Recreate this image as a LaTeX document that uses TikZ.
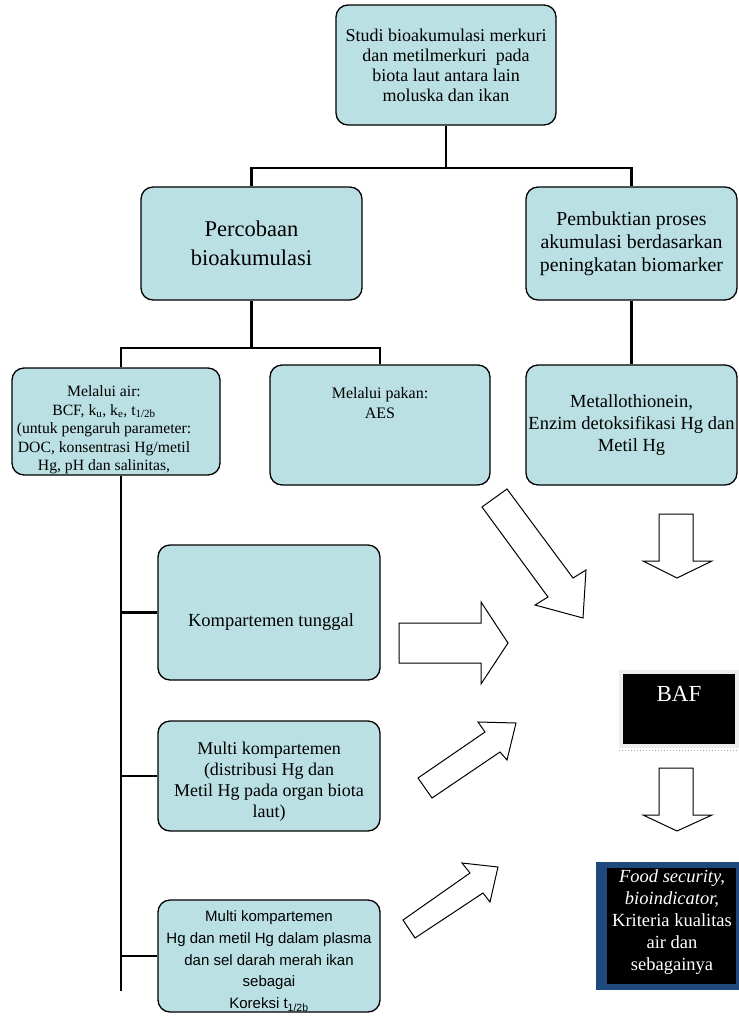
\documentclass[tikz,border=0pt]{standalone}
\usepackage{fontspec}
\setmainfont{Liberation Serif}
\newfontfamily\sansf{Liberation Sans}
\definecolor{boxblue}{RGB}{187,224,227}
\definecolor{darkblue}{RGB}{31,73,125}
\definecolor{bafgray}{RGB}{236,236,236}
\begin{document}
\begin{tikzpicture}[x=1pt,y=-1pt,
  bbox/.style={draw=black,line width=1.3pt,fill=boxblue,rounded corners=12pt,inner sep=0pt,align=center},
  conn/.style={draw=black,line width=2.2pt},
  blockarrow/.style={draw=black,fill=white,line width=1pt,line join=miter},
  txt/.style={align=center,inner sep=0pt}]
\useasboundingbox (0,0) rectangle (739,1018);

% boxes
\node[bbox,minimum width=220pt,minimum height=120pt,font=\fontsize{18}{20}\selectfont] (top) at (446,65)
  {Studi bioakumulasi merkuri\\dan metilmerkuri~ pada\\biota laut antara lain\\moluska dan ikan};
\node[bbox,minimum width=221pt,minimum height=113pt,font=\fontsize{22.5}{29}\selectfont] (perc) at (251.5,243.5)
  {Percobaan\\bioakumulasi};
\node[bbox,minimum width=211pt,minimum height=113pt,font=\fontsize{19.8}{23}\selectfont] (pemb) at (631.5,243.5)
  {Pembuktian proses\\akumulasi berdasarkan\\peningkatan biomarker};
\node[bbox,minimum width=208pt,minimum height=107pt] (air) at (116,421.5) {};
\node[txt,font=\fontsize{15.7}{18.5}\selectfont] (airtext) at (104,430)
  {Melalui air:\\BCF, k\textsubscript{u}, k\textsubscript{e}, t\textsubscript{1/2b}\\(untuk pengaruh parameter:\\DOC, konsentrasi Hg/metil\\Hg, pH dan salinitas,};
\node[bbox,minimum width=220pt,minimum height=120pt] (pakan) at (380,425) {};
\node[txt,font=\fontsize{16}{20}\selectfont] (pakantext) at (380,403)
  {Melalui pakan:\\AES};
\node[bbox,minimum width=211pt,minimum height=120pt,font=\fontsize{18.5}{22}\selectfont] (metal) at (631.5,425)
  {Metallothionein,\\Enzim detoksifikasi Hg dan\\Metil Hg};
\node[bbox,minimum width=222pt,minimum height=135pt] (tung) at (269,612.5) {};
\node[txt,font=\fontsize{18.5}{21}\selectfont] (tungtext) at (271,622) {Kompartemen tunggal};
\node[bbox,minimum width=222pt,minimum height=110pt] (multia) at (269,776) {};
\node[txt,font=\fontsize{18}{21}\selectfont] (multiatext) at (269,782)
  {Multi kompartemen\\(distribusi Hg dan\\Metil Hg pada organ biota\\laut)};
\node[bbox,minimum width=222pt,minimum height=112pt] (multib) at (269,956) {};
\node[txt,font=\sansf\fontsize{15}{21.7}\selectfont] (multibtext) at (269,961)
  {Multi kompartemen\\Hg dan metil Hg dalam plasma\\dan sel darah merah ikan\\sebagai\\Koreksi t\textsubscript{1/2b}};

% BAF box
\fill[bafgray] (619,670) rectangle (739,748);
\node[fill=black,minimum width=112pt,minimum height=70pt,inner sep=0pt] (baf) at (679,709) {};
\node[txt,text=white,font=\fontsize{23}{26}\selectfont] (baftext) at (679,694) {BAF};
\draw[gray!70,dotted,line width=1pt] (619,750) -- (739,750);

% Food security box
\fill[darkblue] (596,862) rectangle (739,990);
\node[fill=black,minimum width=129pt,minimum height=116pt,inner sep=0pt] (food) at (671.5,926) {};
\node[txt,text=white,font=\fontsize{18.5}{22}\selectfont] (foodtext) at (672,922)
  {{\itshape Food security,}\\{\itshape bioindicator,}\\Kriteria kualitas\\air dan\\sebagainya};

% connectors
\draw[conn] (top.south) -- ++(0,42) coordinate (j1);
\draw[conn] (perc.north) |- (j1) -| (pemb.north);
\draw[conn] (perc.south) -- ++(0,47) coordinate (j2);
\draw[conn] ([xshift=5pt]air.north) |- (j2) -| (pakan.north);
\draw[conn] (pemb.south) -- (metal.north);
\draw[conn] ([xshift=5pt]air.south) -- ++(0,515) coordinate (lend);
\draw[conn] (tung.west -| lend) -- (tung.west);
\draw[conn] (multia.west -| lend) -- (multia.west);
\draw[conn] (multib.west -| lend) -- (multib.west);

% block arrows
\draw[blockarrow] (507,489) -- (573,578) -- (586,570) -- (583,618) -- (535,605) -- (548,597) -- (482,507) -- cycle;
\draw[blockarrow] (659,514) -- (693,514) -- (693,561) -- (712,561) -- (677,578) -- (643,561) -- (659,561) -- cycle;
\draw[blockarrow] (399,623) -- (481,623) -- (481,602) -- (508,643) -- (481,684) -- (481,663) -- (399,663) -- cycle;
\draw[blockarrow] (418,778) -- (485,732) -- (478,722) -- (516,723) -- (507,760) -- (500,752) -- (432,798) -- cycle;
\draw[blockarrow] (659,768) -- (693,768) -- (693,815) -- (712,815) -- (677,831) -- (643,815) -- (659,815) -- cycle;
\draw[blockarrow] (403,920) -- (470,873) -- (462,863) -- (498,867) -- (490,902) -- (483,893) -- (415,938) -- cycle;
\end{tikzpicture}
\end{document}
